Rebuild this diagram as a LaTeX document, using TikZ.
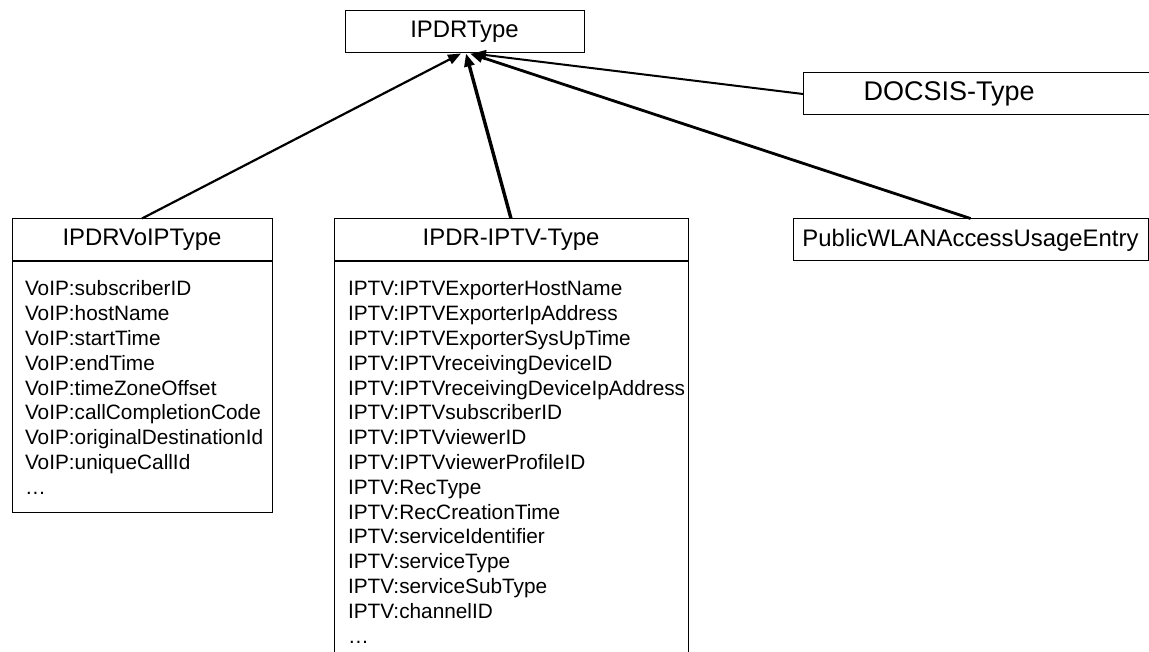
\documentclass[tikz,border=0pt]{standalone}
\usepackage{fontspec}
\setmainfont{Liberation Sans}
\usetikzlibrary{arrows.meta,calc}
\hyphenpenalty=10000
\exhyphenpenalty=10000
\begin{document}
\begin{tikzpicture}[x=1pt,y=-1pt,
  box/.style={draw=black, line width=1pt, inner sep=0pt, minimum height=42pt},
  head/.style={box, font=\fontsize{23.9}{28}\selectfont},
  attrs/.style={draw=black, line width=1pt, align=left, anchor=north,
    inner ysep=18pt, font=\fontsize{20.8}{24.8}\selectfont},
  gen/.style={-{Triangle[length=13pt,width=10pt]}, draw=black}]
\useasboundingbox (0,0) rectangle (1149,652);
\clip (0,0) rectangle (1149,652);

% base type
\node[head, minimum width=239pt] (ipdr) at (464.5,32) {IPDRType};

% derived types without attribute lists
\node[head, anchor=west, minimum width=360pt, inner xsep=60pt, text width=240pt,
  align=left, font=\fontsize{27}{30}\selectfont] (docsis) at (803,94) {DOCSIS-Type};
\node[head, minimum width=355pt] (wlan) at (970.5,240) {PublicWLANAccessUsageEntry};

% VoIP record type
\node[head, minimum width=260pt] (voip) at (142,240) {IPDRVoIPType};
\node[attrs, inner xsep=13pt, text width=234pt] (voipattr) at (voip.south)
  {\rule{0pt}{16pt}VoIP:subscriberID\\
   VoIP:hostName\\
   VoIP:startTime\\
   VoIP:endTime\\
   VoIP:timeZoneOffset\\
   VoIP:callCompletionCode\\
   VoIP:originalDestinationId\\
   VoIP:uniqueCallId\\
   …};

% IPTV record type
\node[head, minimum width=354pt] (iptv) at (511,240) {IPDR-IPTV-Type};
\node[attrs, inner xsep=14pt, text width=326pt] (iptvattr) at (iptv.south)
  {\rule{0pt}{16pt}IPTV:IPTVExporterHostName\\
   IPTV:IPTVExporterIpAddress\\
   IPTV:IPTVExporterSysUpTime\\
   IPTV:IPTVreceivingDeviceID\\
   IPTV:IPTVreceivingDeviceIpAddress\\
   IPTV:IPTVsubscriberID\\
   IPTV:IPTVviewerID\\
   IPTV:IPTVviewerProfileID\\
   IPTV:RecType\\
   IPTV:RecCreationTime\\
   IPTV:serviceIdentifier\\
   IPTV:serviceType\\
   IPTV:serviceSubType\\
   IPTV:channelID\\
   …};

% generalisation connectors
\coordinate (tipvoip) at ($(ipdr.south)+(-3.5,0)$);
\coordinate (tipiptv) at ($(ipdr.south)+(1.5,0)$);
\coordinate (tipwlan) at ($(ipdr.south)+(5.5,0)$);
\coordinate (tipdocsis) at ($(ipdr.south)+(8.5,0)$);
\draw[gen, line width=2.2pt] (voip.north) -- (tipvoip);
\draw[gen, line width=3.4pt] (iptv.north) -- (tipiptv);
\draw[gen, line width=2.8pt] (wlan.north) -- (tipwlan);
\draw[gen, line width=2pt] (docsis.west) -- (tipdocsis);
\end{tikzpicture}
\end{document}
